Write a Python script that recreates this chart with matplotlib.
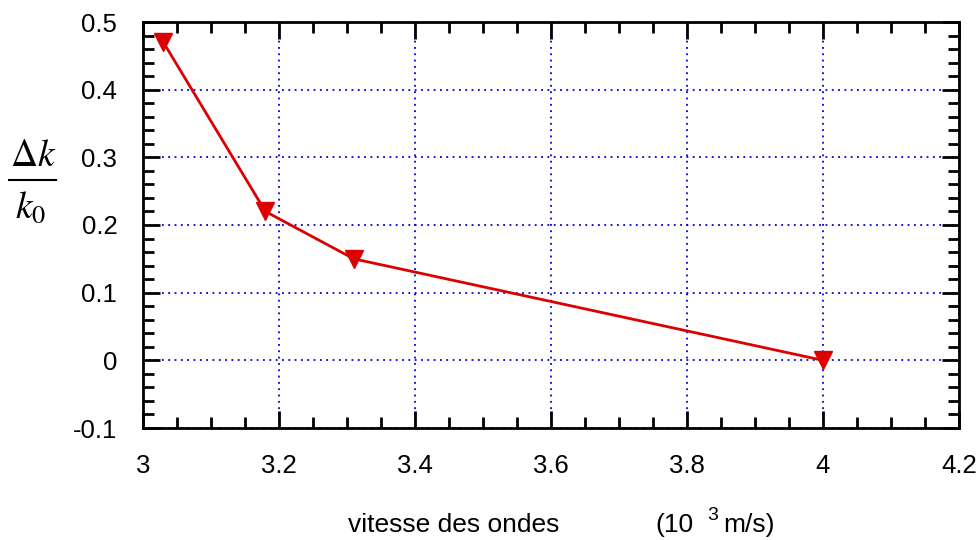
import matplotlib
matplotlib.use("Agg")
import matplotlib.pyplot as plt
from matplotlib.ticker import MultipleLocator
from matplotlib.lines import Line2D

vitesse = [3.03, 3.18, 3.31, 4.0]
delta_k = [0.47, 0.22, 0.15, 0.0]
x_ticks = [3, 3.2, 3.4, 3.6, 3.8, 4, 4.2]
y_ticks = [-0.1, 0, 0.1, 0.2, 0.3, 0.4, 0.5]

plt.rcParams['font.family'] = ['Liberation Sans', 'DejaVu Sans']
plt.rcParams['mathtext.fontset'] = 'stix'

W, H = 979, 540
fig = plt.figure(figsize=(W/100, H/100), dpi=100)
ax = fig.add_axes([143/W, 1-428/H, 816/W, 406/H])

ax.plot(vitesse, delta_k, color='#dd0000', lw=2, marker='v', ms=13,
        markerfacecolor='#dd0000', markeredgecolor='#dd0000', zorder=5, clip_on=False)

ax.set_xlim(3, 4.2)
ax.set_ylim(-0.1, 0.5)
ax.set_xticks(x_ticks)
ax.set_yticks(y_ticks)
ax.set_xticklabels(['3', '3.2', '3.4', '3.6', '3.8', '4', '4.2'])
ax.set_yticklabels(['-0.1', '0', '0.1', '0.2', '0.3', '0.4', '0.5'])
ax.xaxis.set_minor_locator(MultipleLocator(0.05))
ax.yaxis.set_minor_locator(MultipleLocator(0.02))
ax.tick_params(which='both', direction='in', top=True, right=True, width=2, labelsize=18.5, color='black')
ax.tick_params(which='major', length=12)
ax.tick_params(which='minor', length=8)
ax.tick_params(axis='y', which='major', pad=18.5)
ax.tick_params(axis='x', which='major', pad=19)
for s in ax.spines.values():
    s.set_linewidth(2)
ax.grid(True, which='major', color='#0000cc', linestyle=(0, (1, 2.5)), lw=1.3)
ax.set_axisbelow(True)

# x label
fs = 19
fig.text(348/W, 1-532/H, 'vitesse des ondes', fontsize=fs, ha='left', va='baseline')
fig.text(655/W, 1-532/H, '(10', fontsize=fs, ha='left', va='baseline')
fig.text(707/W, 1-520/H, '3', fontsize=14, ha='left', va='baseline')
fig.text(723/W, 1-532/H, 'm/s)', fontsize=fs, ha='left', va='baseline')

# y label as a stacked fraction
fig.text(33/W, 1-166/H, r'$\Delta k$', fontsize=27, ha='center', va='baseline')
fig.add_artist(Line2D([9/W, 56/W], [1-180/H, 1-180/H], color='black', lw=1.5,
                      transform=fig.transFigure))
fig.text(31/W, 1-218/H, r'$k_0$', fontsize=27, ha='center', va='baseline')

fig.savefig('out.png', dpi=100)
